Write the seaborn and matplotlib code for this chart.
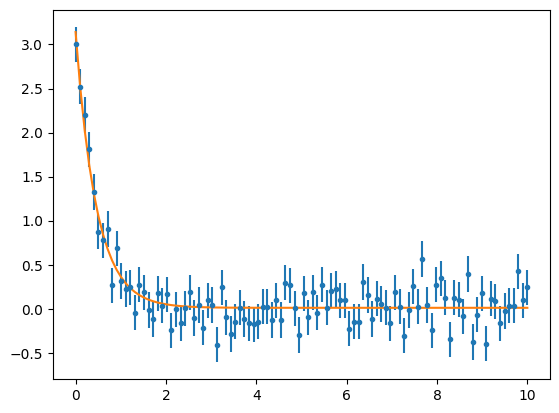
import numpy as np
import matplotlib
matplotlib.use("Agg")
import matplotlib.pyplot as plt
import seaborn as sns

x_data = np.linspace(0, 10, 100)
y_data = [3.00, 2.52, 2.20, 1.81, 1.33, 0.88, 0.78, 0.91, 0.27, 0.69,
          0.32, 0.23, 0.25, -0.04, 0.28, 0.19, -0.01, -0.11, 0.18, 0.04,
          0.17, -0.24, 0.00, -0.16, 0.01, 0.19, -0.10, 0.05, -0.21, 0.10,
          0.05, -0.40, 0.25, -0.09, -0.28, -0.14, 0.02, -0.11, -0.16, -0.17,
          -0.14, 0.03, 0.03, -0.12, 0.10, -0.12, 0.30, 0.27, 0.01, -0.29,
          0.18, -0.09, 0.19, -0.04, 0.28, 0.02, 0.21, 0.23, 0.10, 0.10,
          -0.22, -0.14, -0.14, 0.31, 0.16, -0.11, 0.12, 0.06, 0.02, -0.16,
          0.19, 0.03, -0.30, -0.01, 0.26, 0.03, 0.57, 0.05, -0.24, 0.28,
          0.35, 0.13, -0.34, 0.13, 0.11, -0.08, 0.40, -0.37, -0.06, 0.18,
          -0.39, 0.12, 0.09, -0.16, -0.02, 0.04, 0.04, 0.43, 0.10, 0.25]
y_err = 0.2

y_data = np.array(y_data)

# fit a*exp(-b*x) + c : scan b, solve a and c by least squares
best = None
for b in np.linspace(0.5, 6, 1101):
    A = np.column_stack([np.exp(-b * x_data), np.ones_like(x_data)])
    coef, res, _, _ = np.linalg.lstsq(A, y_data, rcond=None)
    sse = np.sum((A @ coef - y_data) ** 2)
    if best is None or sse < best[0]:
        best = (sse, b, coef)
_, b_fit, (a_fit, c_fit) = best
print(a_fit, b_fit, c_fit)
y_fit = a_fit * np.exp(-b_fit * x_data) + c_fit

fig = plt.figure(figsize=(5.59, 4.13), dpi=100)
ax = fig.add_axes([0.0948, 0.0823, 0.889, 0.8935])
ax.errorbar(x_data, y_data, yerr=y_err, fmt='.')
sns.lineplot(x=x_data, y=y_fit, color='C1', ax=ax)

plt.savefig('out.png')
